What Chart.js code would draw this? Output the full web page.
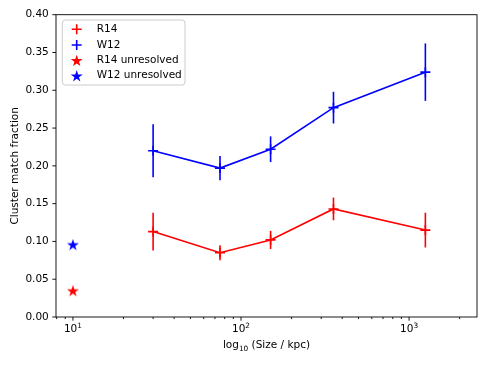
<!DOCTYPE html>
<html lang="en">
<head>
    <meta charset="UTF-8">
    <title>Cluster match fraction</title>
    <style>
        body {
            margin: 0;
            background: #ffffff;
        }

        #wrap {
            width: 490px;
            height: 368px;
        }
    </style>
</head>
<body>
<div id="wrap">
    <canvas id="chart" width="490" height="368"></canvas>
</div>

<script src="https://cdn.jsdelivr.net/npm/chart.js"></script>
<script>
    // sizes in kpc and match fractions
    const sizes = [30, 75, 150, 355, 1250];
    const r14 = [0.113, 0.085, 0.102, 0.143, 0.115];
    const r14Err = [0.025, 0.010, 0.012, 0.015, 0.023];
    const w12 = [0.220, 0.197, 0.222, 0.277, 0.324];
    const w12Err = [0.035, 0.016, 0.017, 0.021, 0.038];
    const unresolvedSize = 10;
    const r14Unresolved = 0.035;
    const w12Unresolved = 0.096;
    const yTicks = [0, 0.05, 0.10, 0.15, 0.20, 0.25, 0.30, 0.35, 0.40];
    const xMajor = [10, 100, 1000];

    const RED = '#ff0000';
    const BLUE = '#0000ff';
    const FONT = '"DejaVu Sans", sans-serif';
    const FS = 10.5;
    const STAR_R = 6.3;

    function starPath(ctx, cx, cy, r) {
        const inner = r * 0.38;
        ctx.beginPath();
        for (let i = 0; i < 10; i++) {
            const rad = i % 2 === 0 ? r : inner;
            const a = -Math.PI / 2 + i * Math.PI / 5;
            const px = cx + rad * Math.cos(a);
            const py = cy + rad * Math.sin(a);
            if (i === 0) ctx.moveTo(px, py); else ctx.lineTo(px, py);
        }
        ctx.closePath();
    }

    function makeStar(color) {
        const c = document.createElement('canvas');
        c.width = 16;
        c.height = 16;
        const g = c.getContext('2d');
        g.fillStyle = color;
        starPath(g, 8, 8.7, STAR_R);
        g.fill();
        return c;
    }

    function pts(xs, ys) {
        return xs.map((x, i) => ({x: x, y: ys[i]}));
    }

    // vertical error bars, drawn through the scales
    const errorBars = {
        id: 'errorBars',
        afterDatasetsDraw(chart) {
            const ctx = chart.ctx;
            const xs = chart.scales.x, ys = chart.scales.y;
            const sets = [[r14, r14Err, RED], [w12, w12Err, BLUE]];
            ctx.save();
            ctx.lineWidth = 1.6;
            for (const [vals, errs, color] of sets) {
                ctx.strokeStyle = color;
                vals.forEach((v, i) => {
                    const px = xs.getPixelForValue(sizes[i]);
                    ctx.beginPath();
                    ctx.moveTo(px, ys.getPixelForValue(v - errs[i]));
                    ctx.lineTo(px, ys.getPixelForValue(v + errs[i]));
                    ctx.stroke();
                });
            }
            ctx.restore();
        }
    };

    // frame, ticks, tick labels, axis titles and legend in matplotlib style
    const decor = {
        id: 'decor',
        afterDraw(chart) {
            const ctx = chart.ctx;
            const a = chart.chartArea;
            const xs = chart.scales.x, ys = chart.scales.y;
            ctx.save();
            ctx.strokeStyle = '#000000';
            ctx.lineWidth = 0.9;
            ctx.strokeRect(a.left, a.top, a.right - a.left, a.bottom - a.top);

            // y ticks
            ctx.fillStyle = '#000000';
            ctx.font = FS + 'px ' + FONT;
            ctx.textAlign = 'right';
            ctx.textBaseline = 'middle';
            for (const t of yTicks) {
                const py = ys.getPixelForValue(t);
                ctx.beginPath();
                ctx.moveTo(a.left, py);
                ctx.lineTo(a.left - 3.7, py);
                ctx.stroke();
                ctx.fillText(t.toFixed(2), a.left - 7.2, py);
            }

            // x ticks, major and minor
            for (let dec = 1; dec <= 1000; dec *= 10) {
                for (let m = 1; m <= 9; m++) {
                    const v = m * dec;
                    if (v < xs.min || v > xs.max) continue;
                    const px = xs.getPixelForValue(v);
                    ctx.beginPath();
                    ctx.moveTo(px, a.bottom);
                    ctx.lineTo(px, a.bottom + (m === 1 ? 3.7 : 2.1));
                    ctx.stroke();
                }
            }
            for (const v of xMajor) {
                const px = xs.getPixelForValue(v);
                const exp = String(Math.round(Math.log10(v)));
                ctx.font = FS + 'px ' + FONT;
                const w1 = ctx.measureText('10').width;
                ctx.font = (FS * 0.7) + 'px ' + FONT;
                const w2 = ctx.measureText(exp).width;
                const x0 = px - (w1 + w2) / 2;
                ctx.textAlign = 'left';
                ctx.textBaseline = 'alphabetic';
                ctx.font = FS + 'px ' + FONT;
                ctx.fillText('10', x0, a.bottom + 15);
                ctx.font = (FS * 0.7) + 'px ' + FONT;
                ctx.fillText(exp, x0 + w1, a.bottom + 10.5);
            }

            // axis titles
            ctx.font = FS + 'px ' + FONT;
            const midX = (a.left + a.right) / 2;
            const wLog = ctx.measureText('log').width;
            ctx.font = (FS * 0.7) + 'px ' + FONT;
            const wSub = ctx.measureText('10').width;
            ctx.font = FS + 'px ' + FONT;
            const wRest = ctx.measureText(' (Size / kpc)').width;
            const lx = midX - (wLog + wSub + wRest) / 2;
            ctx.textAlign = 'left';
            ctx.textBaseline = 'alphabetic';
            ctx.fillText('log', lx, 348);
            ctx.font = (FS * 0.7) + 'px ' + FONT;
            ctx.fillText('10', lx + wLog, 350.5);
            ctx.font = FS + 'px ' + FONT;
            ctx.fillText(' (Size / kpc)', lx + wLog + wSub, 348);

            ctx.save();
            ctx.translate(15, (a.top + a.bottom) / 2);
            ctx.rotate(-Math.PI / 2);
            ctx.textAlign = 'center';
            ctx.textBaseline = 'middle';
            ctx.fillText('Cluster match fraction', 0, 0);
            ctx.restore();

            // legend
            const bx = 62.3, by = 20, bw = 122.7, bh = 65;
            ctx.fillStyle = 'rgba(255,255,255,0.8)';
            ctx.strokeStyle = '#cccccc';
            ctx.lineWidth = 1;
            ctx.beginPath();
            ctx.roundRect(bx, by, bw, bh, 3);
            ctx.fill();
            ctx.stroke();
            const rows = [29.3, 45, 60.3, 75.7];
            chart.data.datasets.forEach((ds, i) => {
                const cy = rows[i];
                const cx = 76.7;
                ctx.strokeStyle = ds.pointBorderColor;
                ctx.fillStyle = ds.pointBorderColor;
                if (ds.pointStyle === 'cross') {
                    ctx.lineWidth = 1.6;
                    ctx.beginPath();
                    ctx.moveTo(cx - 5, cy);
                    ctx.lineTo(cx + 5, cy);
                    ctx.moveTo(cx, cy - 5);
                    ctx.lineTo(cx, cy + 5);
                    ctx.stroke();
                } else {
                    starPath(ctx, cx, cy + 0.7, STAR_R);
                    ctx.fill();
                }
                ctx.fillStyle = '#000000';
                ctx.font = FS + 'px ' + FONT;
                ctx.textAlign = 'left';
                ctx.textBaseline = 'middle';
                ctx.fillText(ds.label, 96.7, cy);
            });
            ctx.restore();
        }
    };

    new Chart(document.getElementById('chart').getContext('2d'), {
        type: 'scatter',
        data: {
            datasets: [{
                label: 'R14',
                data: pts(sizes, r14),
                showLine: true,
                borderColor: RED,
                borderWidth: 1.6,
                pointStyle: 'cross',
                pointRadius: 5,
                pointBorderColor: RED,
                pointBorderWidth: 1.6
            }, {
                label: 'W12',
                data: pts(sizes, w12),
                showLine: true,
                borderColor: BLUE,
                borderWidth: 1.6,
                pointStyle: 'cross',
                pointRadius: 5,
                pointBorderColor: BLUE,
                pointBorderWidth: 1.6
            }, {
                label: 'R14 unresolved',
                data: [{x: unresolvedSize, y: r14Unresolved}],
                pointStyle: makeStar(RED),
                pointBorderColor: RED,
                pointRadius: 7
            }, {
                label: 'W12 unresolved',
                data: [{x: unresolvedSize, y: w12Unresolved}],
                pointStyle: makeStar(BLUE),
                pointBorderColor: BLUE,
                pointRadius: 7
            }]
        },
        options: {
            responsive: false,
            animation: false,
            devicePixelRatio: 1,
            layout: {padding: {left: 0, right: 13, top: 14.7, bottom: 0}},
            plugins: {
                legend: {display: false},
                tooltip: {enabled: false}
            },
            scales: {
                x: {
                    type: 'logarithmic',
                    min: 7.93,
                    max: 2536,
                    grid: {display: false, drawTicks: false},
                    border: {display: false},
                    ticks: {display: false},
                    afterFit(scale) { scale.height = 51; }
                },
                y: {
                    min: 0,
                    max: 0.4,
                    grid: {display: false, drawTicks: false},
                    border: {display: false},
                    ticks: {display: false, stepSize: 0.05},
                    afterFit(scale) { scale.width = 56; }
                }
            }
        },
        plugins: [errorBars, decor]
    });
</script>
</body>
</html>
